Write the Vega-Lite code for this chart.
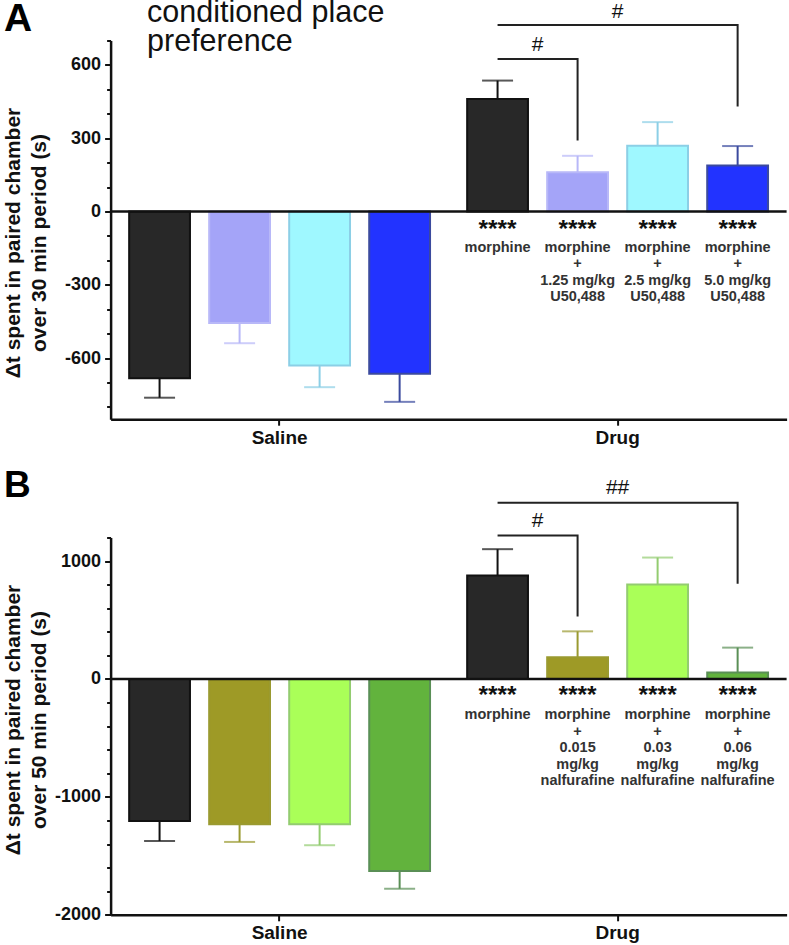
{
  "$schema": "https://vega.github.io/schema/vega-lite/v6.json",
  "description": "Conditioned place preference, panels A and B.",
  "background": "white",
  "padding": {"left": 1.6, "top": -2.5, "right": 2, "bottom": 0},
  "bounds": "flush",
  "spacing": 118,
  "resolve": {"scale": {"xOffset": "independent", "fill": "independent", "stroke": "independent", "color": "independent"}},
  "config": {
    "font": "Liberation Sans",
    "view": {"stroke": null},
    "axis": {
      "grid": false,
      "domainColor": "#111",
      "domainWidth": 2.5,
      "tickColor": "#111",
      "tickWidth": 2,
      "labelColor": "#111",
      "labelFontWeight": "bold",
      "titleColor": "#111",
      "titleFontWeight": "bold"
    }
  },
  "datasets": {
    "barsA": [
      {"group": "Saline", "dose": "none", "mean": -682, "cap": -762},
      {"group": "Saline", "dose": "1.25", "mean": -456, "cap": -539},
      {"group": "Saline", "dose": "2.5", "mean": -630, "cap": -719},
      {"group": "Saline", "dose": "5.0", "mean": -664, "cap": -779},
      {"group": "Drug", "dose": "none", "mean": 461, "cap": 536, "label": "morphine"},
      {"group": "Drug", "dose": "1.25", "mean": 161, "cap": 228, "label": "morphine\n+\n1.25 mg/kg\nU50,488"},
      {"group": "Drug", "dose": "2.5", "mean": 269, "cap": 366, "label": "morphine\n+\n2.5 mg/kg\nU50,488"},
      {"group": "Drug", "dose": "5.0", "mean": 188, "cap": 268, "label": "morphine\n+\n5.0 mg/kg\nU50,488"}
    ],
    "barsB": [
      {"group": "Saline", "dose": "none", "mean": -1204, "cap": -1374},
      {"group": "Saline", "dose": "0.015", "mean": -1232, "cap": -1382},
      {"group": "Saline", "dose": "0.03", "mean": -1232, "cap": -1410},
      {"group": "Saline", "dose": "0.06", "mean": -1628, "cap": -1779},
      {"group": "Drug", "dose": "none", "mean": 878, "cap": 1101, "label": "morphine"},
      {"group": "Drug", "dose": "0.015", "mean": 184, "cap": 404, "label": "morphine\n+\n0.015\nmg/kg\nnalfurafine"},
      {"group": "Drug", "dose": "0.03", "mean": 801, "cap": 1030, "label": "morphine\n+\n0.03\nmg/kg\nnalfurafine"},
      {"group": "Drug", "dose": "0.06", "mean": 54, "cap": 266, "label": "morphine\n+\n0.06\nmg/kg\nnalfurafine"}
    ],
    "bracketsA": [
      {"bracket": "inner", "step": 1, "group": "Drug", "dose": "none", "level": 624},
      {"bracket": "inner", "step": 2, "group": "Drug", "dose": "1.25", "level": 624},
      {"bracket": "inner", "step": 3, "group": "Drug", "dose": "1.25", "level": 291},
      {"bracket": "outer", "step": 1, "group": "Drug", "dose": "none", "level": 763},
      {"bracket": "outer", "step": 2, "group": "Drug", "dose": "5.0", "level": 763},
      {"bracket": "outer", "step": 3, "group": "Drug", "dose": "5.0", "level": 430}
    ],
    "bracketsB": [
      {"bracket": "inner", "step": 1, "group": "Drug", "dose": "none", "level": 1217},
      {"bracket": "inner", "step": 2, "group": "Drug", "dose": "0.015", "level": 1217},
      {"bracket": "inner", "step": 3, "group": "Drug", "dose": "0.015", "level": 529},
      {"bracket": "outer", "step": 1, "group": "Drug", "dose": "none", "level": 1495},
      {"bracket": "outer", "step": 2, "group": "Drug", "dose": "0.06", "level": 1495},
      {"bracket": "outer", "step": 3, "group": "Drug", "dose": "0.06", "level": 807}
    ]
  },
  "vconcat": [
    {
      "width": 676,
      "height": 378.7,
      "data": {"name": "barsA"},
      "encoding": {
        "x": {"field": "group", "type": "nominal", "sort": ["Saline", "Drug"], "title": null,
          "scale": {"paddingInner": 0.053, "paddingOuter": 0.0265},
          "axis": {"labelAngle": 0, "labelFontSize": 19, "labelPadding": 3, "tickSize": 6}},
        "xOffset": {"field": "dose", "type": "nominal",
          "scale": {"domain": ["none", "1.25", "2.5", "5.0"], "paddingInner": 0.24, "paddingOuter": 0.12}},
        "y": {"field": "mean", "type": "quantitative", "stack": null,
          "scale": {"domain": [-850, 700], "nice": false},
          "title": ["Δt spent in paired chamber", "over 30 min period (s)"],
          "axis": {
            "values": [-800, -700, -600, -500, -400, -300, -200, -100, 0, 100, 200, 300, 400, 500, 600, 700],
            "labelExpr": "datum.value % 300 === 0 ? '' + datum.value : ''",
            "labelFontSize": 18, "labelPadding": 4,
            "tickSize": {"condition": {"test": "datum.value % 300 === 0", "value": 6}, "value": 4},
            "titleFontSize": 21, "titleLineHeight": 26, "titleX": -87.5, "titleY": 202
          }}
      },
      "layer": [
        {
          "mark": {"type": "rule", "strokeWidth": 2},
          "encoding": {
            "y2": {"field": "cap"},
            "stroke": {"field": "dose", "type": "nominal", "legend": null,
              "scale": {"domain": ["none", "1.25", "2.5", "5.0"], "range": ["#111111", "#B8B8F8", "#8CCFE6", "#3B4A9E"]}}
          }
        },
        {
          "mark": {"type": "tick", "orient": "horizontal", "size": 31, "thickness": 2},
          "encoding": {
            "y": {"field": "cap", "type": "quantitative"},
            "color": {"field": "dose", "type": "nominal", "legend": null,
              "scale": {"domain": ["none", "1.25", "2.5", "5.0"], "range": ["#111111", "#B8B8F8", "#8CCFE6", "#3B4A9E"]}}
          }
        },
        {
          "mark": {"type": "bar", "strokeWidth": 2},
          "encoding": {
            "fill": {"field": "dose", "type": "nominal", "legend": null,
              "scale": {"domain": ["none", "1.25", "2.5", "5.0"], "range": ["#282828", "#A4A4F8", "#9FF8FF", "#2233FF"]}},
            "stroke": {"field": "dose", "type": "nominal", "legend": null,
              "scale": {"domain": ["none", "1.25", "2.5", "5.0"], "range": ["#111111", "#B8B8F8", "#8CCFE6", "#3B4A9E"]}}
          }
        },
        {
          "data": {"values": [{"zero": 0}]},
          "mark": {"type": "rule", "strokeWidth": 2.5, "color": "#111"},
          "encoding": {"x": null, "xOffset": null, "y": {"field": "zero", "type": "quantitative"}}
        },
        {
          "data": {"name": "bracketsA"},
          "mark": {"type": "line", "strokeWidth": 2, "color": "#222", "strokeJoin": "miter"},
          "encoding": {
            "y": {"field": "level", "type": "quantitative"},
            "detail": {"field": "bracket"},
            "order": {"field": "step"}
          }
        },
        {
          "data": {"values": [
            {"group": "Drug", "dose": "1.25", "note": "#", "level": 683},
            {"group": "Drug", "dose": "2.5", "note": "#", "level": 818}
          ]},
          "mark": {"type": "text", "fontSize": 21, "dx": -40, "color": "#111", "baseline": "middle"},
          "encoding": {"y": {"field": "level", "type": "quantitative"}, "text": {"field": "note"}}
        },
        {
          "transform": [{"filter": "datum.group === 'Drug'"}],
          "mark": {"type": "text", "fontSize": 24.5, "fontWeight": "bold", "dy": 25, "baseline": "alphabetic", "color": "#111"},
          "encoding": {"y": {"datum": 0}, "text": {"value": "****"}}
        },
        {
          "transform": [{"filter": "datum.group === 'Drug'"}],
          "mark": {"type": "text", "fontSize": 14.5, "fontWeight": "bold", "lineBreak": "\n", "lineHeight": 16.6, "dy": 29, "baseline": "top", "color": "#333"},
          "encoding": {"y": {"datum": 0}, "text": {"field": "label"}}
        },
        {
          "data": {"values": [{"group": "Saline", "dose": "none", "note": "conditioned place\npreference", "level": 775}]},
          "mark": {"type": "text", "fontSize": 30.5, "align": "left", "dx": -12.5, "lineBreak": "\n", "lineHeight": 29, "baseline": "alphabetic", "color": "#111"},
          "encoding": {"y": {"field": "level", "type": "quantitative"}, "text": {"field": "note"}}
        },
        {
          "data": {"values": [{"group": "Saline", "dose": "none", "panel": "A", "level": 740}]},
          "mark": {"type": "text", "fontSize": 39, "fontWeight": "bold", "align": "left", "dx": -155.5, "baseline": "alphabetic", "color": "#000"},
          "encoding": {"y": {"field": "level", "type": "quantitative"}, "text": {"field": "panel"}}
        }
      ]
    },
    {
      "width": 676,
      "height": 377.3,
      "data": {"name": "barsB"},
      "encoding": {
        "x": {"field": "group", "type": "nominal", "sort": ["Saline", "Drug"], "title": null,
          "scale": {"paddingInner": 0.053, "paddingOuter": 0.0265},
          "axis": {"labelAngle": 0, "labelFontSize": 19, "labelPadding": 3, "tickSize": 6}},
        "xOffset": {"field": "dose", "type": "nominal",
          "scale": {"domain": ["none", "0.015", "0.03", "0.06"], "paddingInner": 0.24, "paddingOuter": 0.12}},
        "y": {"field": "mean", "type": "quantitative", "stack": null,
          "scale": {"domain": [-2000, 1200], "nice": false},
          "title": ["Δt spent in paired chamber", "over 50 min period (s)"],
          "axis": {
            "values": [-2000, -1800, -1600, -1400, -1200, -1000, -800, -600, -400, -200, 0, 200, 400, 600, 800, 1000, 1200],
            "labelExpr": "datum.value % 1000 === 0 ? '' + datum.value : ''",
            "labelFontSize": 18, "labelPadding": 4,
            "tickSize": {"condition": {"test": "datum.value % 1000 === 0", "value": 6}, "value": 4},
            "titleFontSize": 21, "titleLineHeight": 26, "titleX": -87.5, "titleY": 182
          }}
      },
      "layer": [
        {
          "mark": {"type": "rule", "strokeWidth": 2},
          "encoding": {
            "y2": {"field": "cap"},
            "stroke": {"field": "dose", "type": "nominal", "legend": null,
              "scale": {"domain": ["none", "0.015", "0.03", "0.06"], "range": ["#111111", "#9A9A30", "#93CC70", "#5A8F56"]}}
          }
        },
        {
          "mark": {"type": "tick", "orient": "horizontal", "size": 31, "thickness": 2},
          "encoding": {
            "y": {"field": "cap", "type": "quantitative"},
            "color": {"field": "dose", "type": "nominal", "legend": null,
              "scale": {"domain": ["none", "0.015", "0.03", "0.06"], "range": ["#111111", "#9A9A30", "#93CC70", "#5A8F56"]}}
          }
        },
        {
          "mark": {"type": "bar", "strokeWidth": 2},
          "encoding": {
            "fill": {"field": "dose", "type": "nominal", "legend": null,
              "scale": {"domain": ["none", "0.015", "0.03", "0.06"], "range": ["#282828", "#9E9A26", "#AAFF58", "#62B33D"]}},
            "stroke": {"field": "dose", "type": "nominal", "legend": null,
              "scale": {"domain": ["none", "0.015", "0.03", "0.06"], "range": ["#111111", "#9A9A30", "#93CC70", "#5A8F56"]}}
          }
        },
        {
          "data": {"values": [{"zero": 0}]},
          "mark": {"type": "rule", "strokeWidth": 2.5, "color": "#111"},
          "encoding": {"x": null, "xOffset": null, "y": {"field": "zero", "type": "quantitative"}}
        },
        {
          "data": {"name": "bracketsB"},
          "mark": {"type": "line", "strokeWidth": 2, "color": "#222", "strokeJoin": "miter"},
          "encoding": {
            "y": {"field": "level", "type": "quantitative"},
            "detail": {"field": "bracket"},
            "order": {"field": "step"}
          }
        },
        {
          "data": {"values": [
            {"group": "Drug", "dose": "0.015", "note": "#", "level": 1339},
            {"group": "Drug", "dose": "0.03", "note": "##", "level": 1617}
          ]},
          "mark": {"type": "text", "fontSize": 21, "dx": -40, "color": "#111", "baseline": "middle"},
          "encoding": {"y": {"field": "level", "type": "quantitative"}, "text": {"field": "note"}}
        },
        {
          "transform": [{"filter": "datum.group === 'Drug'"}],
          "mark": {"type": "text", "fontSize": 24.5, "fontWeight": "bold", "dy": 24, "baseline": "alphabetic", "color": "#111"},
          "encoding": {"y": {"datum": 0}, "text": {"value": "****"}}
        },
        {
          "transform": [{"filter": "datum.group === 'Drug'"}],
          "mark": {"type": "text", "fontSize": 14.5, "fontWeight": "bold", "lineBreak": "\n", "lineHeight": 16.6, "dy": 29, "baseline": "top", "color": "#333"},
          "encoding": {"y": {"datum": 0}, "text": {"field": "label"}}
        },
        {
          "data": {"values": [{"group": "Saline", "dose": "none", "panel": "B", "level": 1540}]},
          "mark": {"type": "text", "fontSize": 37, "fontWeight": "bold", "align": "left", "dx": -155.5, "baseline": "alphabetic", "color": "#000"},
          "encoding": {"y": {"field": "level", "type": "quantitative"}, "text": {"field": "panel"}}
        }
      ]
    }
  ]
}
